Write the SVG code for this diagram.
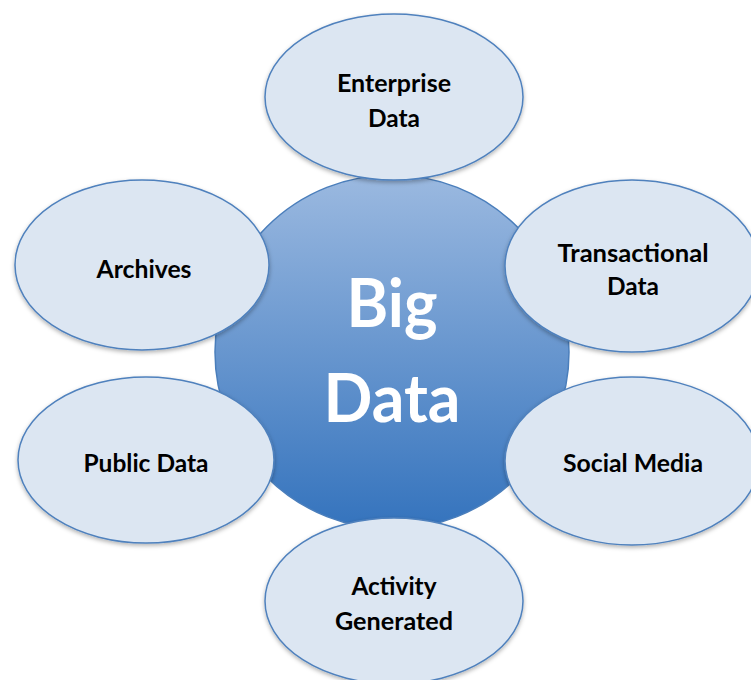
<svg xmlns="http://www.w3.org/2000/svg" width="751" height="680" viewBox="0 0 751 680">
<style>
.sat{fill:#dce6f2;stroke:#4f81bd;stroke-width:1.5;filter:url(#sh)}
.lbl{font-family:Lato,"Open Sans","Liberation Sans",sans-serif;font-weight:bold;font-size:25px;fill:#000;text-anchor:middle}
.big{font-family:Lato,"Open Sans","Liberation Sans",sans-serif;font-weight:bold;font-size:66px;fill:#fff;text-anchor:middle}
</style>
<defs>
<linearGradient id="cg" x1="0" y1="0" x2="0" y2="1">
<stop offset="0" stop-color="#9bb9e0"/>
<stop offset="1" stop-color="#3473bd"/>
</linearGradient>
<filter id="sh" x="-10%" y="-10%" width="120%" height="125%">
<feDropShadow dx="0" dy="2" stdDeviation="2" flood-color="#000" flood-opacity="0.3"/>
</filter>
</defs>
<rect width="751" height="680" fill="#fff"/>
<g id="connectors"/>
<g id="bigdata">
<circle cx="392" cy="352" r="177" fill="url(#cg)" stroke="#4a7ebb" stroke-width="1.5"/>
<text class="big" x="392" y="327" textLength="91" lengthAdjust="spacingAndGlyphs">Big</text>
<text class="big" x="392" y="422" textLength="137" lengthAdjust="spacingAndGlyphs">Data</text>
</g>
<g id="enterprise">
<ellipse class="sat" cx="394" cy="97" rx="129" ry="83"/>
<text class="lbl" x="394" y="92" textLength="114" lengthAdjust="spacingAndGlyphs">Enterprise</text>
<text class="lbl" x="394" y="127" textLength="52" lengthAdjust="spacingAndGlyphs">Data</text>
</g>
<g id="archives">
<ellipse class="sat" cx="142" cy="265" rx="127" ry="85"/>
<text class="lbl" x="144" y="278" textLength="95" lengthAdjust="spacingAndGlyphs">Archives</text>
</g>
<g id="transactional">
<ellipse class="sat" cx="632" cy="266" rx="127" ry="86"/>
<text class="lbl" x="633" y="262" textLength="151" lengthAdjust="spacingAndGlyphs">Transactional</text>
<text class="lbl" x="633" y="295" textLength="52" lengthAdjust="spacingAndGlyphs">Data</text>
</g>
<g id="public">
<ellipse class="sat" cx="146" cy="460" rx="128" ry="83"/>
<text class="lbl" x="146" y="472" textLength="125" lengthAdjust="spacingAndGlyphs">Public Data</text>
</g>
<g id="social">
<ellipse class="sat" cx="632" cy="461" rx="127" ry="84"/>
<text class="lbl" x="633" y="472" textLength="140" lengthAdjust="spacingAndGlyphs">Social Media</text>
</g>
<g id="activity">
<ellipse class="sat" cx="394" cy="601" rx="129" ry="83"/>
<text class="lbl" x="394" y="595" textLength="85" lengthAdjust="spacingAndGlyphs">Activity</text>
<text class="lbl" x="394" y="630" textLength="118" lengthAdjust="spacingAndGlyphs">Generated</text>
</g>
</svg>
